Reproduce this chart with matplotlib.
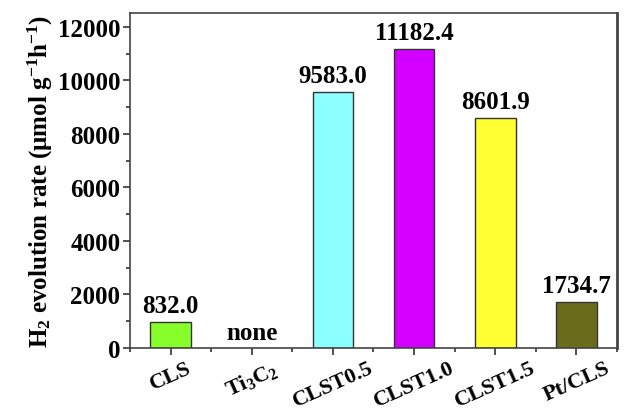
import matplotlib
matplotlib.use("Agg")
import matplotlib.pyplot as plt
import matplotlib.transforms as mtransforms
from matplotlib.ticker import MultipleLocator
import numpy as np

SAMPLES = ["CLS", "Ti$_3$C$_2$", "CLST0.5", "CLST1.0", "CLST1.5", "Pt/CLS"]
RATES = [970.0, 0.0, 9583.0, 11182.4, 8601.9, 1734.7]   # bar heights as drawn
LABELS = ["832.0", "none", "9583.0", "11182.4", "8601.9", "1734.7"]
COLORS = ["#86FF2A", "#FFFFFF", "#8CFFFF", "#D400FF", "#FFFF33", "#6B6B1C"]

plt.rcParams["font.family"] = ["Liberation Serif", "DejaVu Serif"]
plt.rcParams["font.weight"] = "bold"
plt.rcParams["mathtext.fontset"] = "custom"
plt.rcParams["mathtext.rm"] = "Liberation Serif:bold"
plt.rcParams["mathtext.it"] = "Liberation Serif:bold"
plt.rcParams["mathtext.bf"] = "Liberation Serif:bold"

fig = plt.figure(figsize=(6.31, 4.14), dpi=100)
ax = fig.add_axes([130 / 631, 1 - 349 / 414, (617 - 130) / 631, (349 - 14) / 414])

x = np.arange(len(SAMPLES))
for xi, h, c in zip(x, RATES, COLORS):
    if h > 0:
        ax.bar(xi, h, width=0.5, color=c, edgecolor="#333333", linewidth=1.0)

for xi, h, lab in zip(x, RATES, LABELS):
    if h > 0:
        ax.text(xi, h + 180, lab, ha="center", va="bottom", fontsize=18, fontweight="bold")
    else:
        ax.text(xi, 320, lab, ha="center", va="baseline", fontsize=18, fontweight="bold")

ax.set_xlim(-0.5, 5.5)
ax.set_ylim(0, 12520)
ax.set_xticks(x)
ax.set_xticklabels(SAMPLES, rotation=24, ha="center", fontsize=16, fontweight="bold")
shift = mtransforms.ScaledTranslation(10 / 100, 0, fig.dpi_scale_trans)
for lbl in ax.get_xticklabels():
    lbl.set_transform(lbl.get_transform() + shift)
ax.xaxis.set_minor_locator(MultipleLocator(0.5))
ax.yaxis.set_major_locator(MultipleLocator(2000))
ax.yaxis.set_minor_locator(MultipleLocator(1000))
ax.tick_params(axis="both", which="major", direction="out", length=5, width=1.2,
               labelsize=18, colors="#333333", labelcolor="black")
ax.tick_params(axis="both", which="minor", direction="out", length=3, width=1.2,
               colors="#333333")
ax.tick_params(axis="x", labelsize=16, pad=2)
ax.tick_params(axis="y", pad=2)
for lbl in ax.get_yticklabels():
    lbl.set_fontweight("bold")

for side in ["left", "bottom", "top"]:
    ax.spines[side].set_linewidth(1.2)
    ax.spines[side].set_color("#444444")
ax.spines["right"].set_linewidth(2.0)
ax.spines["right"].set_color("#444444")

ax.set_ylabel("H$_2$ evolution rate (\u03bcmol g$^{-1}$h$^{-1}$)", fontsize=18,
              fontweight="bold", labelpad=2)

fig.savefig("out.png", dpi=100)
